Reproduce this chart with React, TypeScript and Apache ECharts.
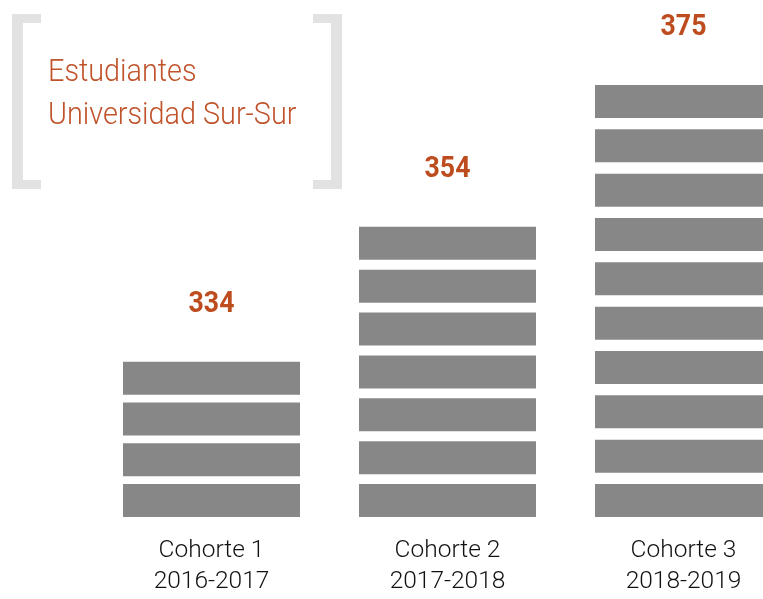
import React, { useEffect, useRef } from "react";
import * as echarts from "echarts";

const cohortNames = ["Cohorte 1", "Cohorte 2", "Cohorte 3"];
const cohortYears = ["2016-2017", "2017-2018", "2018-2019"];
const studentCounts = [334, 354, 375];
const blockCounts = [4, 7, 10];
const titleLines = ["Estudiantes", "Universidad Sur-Sur"];

const AXIS_MIN = 311;
const AXIS_MAX = 375;
const BLOCK_H = 33;
const FONT = "Roboto, 'DejaVu Sans', sans-serif";

export default function App() {
  const ref = useRef<HTMLDivElement>(null);

  useEffect(() => {
    if (!ref.current) return;
    const chart = echarts.init(ref.current, null, { renderer: "svg" });
    const categories = cohortNames.map((n, i) => `${n}\n${cohortYears[i]}`);
    const bracketColor = "#e2e2e2";
    chart.setOption({
      animation: false,
      grid: { left: 93.5, width: 708, top: 85, height: 432, outerBoundsMode: "none" },
      xAxis: {
        type: "category",
        data: categories,
        axisLine: { show: false },
        axisTick: { show: false },
        splitLine: { show: false },
        axisLabel: {
          interval: 0,
          margin: 16,
          fontSize: 24.5,
          fontWeight: 300,
          lineHeight: 31,
          color: "#111111",
          fontFamily: FONT,
        },
      },
      yAxis: {
        type: "value",
        min: AXIS_MIN,
        max: AXIS_MAX,
        show: false,
        splitLine: { show: false },
      },
      series: [
        {
          type: "custom",
          encode: { x: 0, y: 1 },
          data: studentCounts.map((v, i) => [i, v]),
          renderItem: (params: any, api: any) => {
            const idx = api.value(0);
            const val = api.value(1);
            const top = api.coord([idx, val]);
            const base = api.coord([idx, AXIS_MIN]);
            const bandW = api.size([1, 0])[0];
            const w = bandW * 0.75;
            const n = blockCounts[params.dataIndex];
            const total = base[1] - top[1];
            const gap = n > 1 ? (total - n * BLOCK_H) / (n - 1) : 0;
            const children: any[] = [];
            for (let k = 0; k < n; k++) {
              children.push({
                type: "rect",
                shape: {
                  x: top[0] - w / 2,
                  y: base[1] - BLOCK_H - k * (BLOCK_H + gap),
                  width: w,
                  height: BLOCK_H,
                },
                style: { fill: "#878787" },
              });
            }
            children.push({
              type: "text",
              x: top[0],
              y: top[1] - 45,
              scaleX: 0.92,
              style: {
                text: String(val),
                x: 0,
                y: 0,
                align: "center",
                verticalAlign: "bottom",
                fontSize: 29,
                fontWeight: "bold",
                fontFamily: FONT,
                fill: "#bd4c1e",
              },
            });
            return { type: "group", children };
          },
        },
      ],
      graphic: [
        { type: "rect", shape: { x: 12, y: 14, width: 11, height: 175 }, style: { fill: bracketColor } },
        { type: "rect", shape: { x: 12, y: 14, width: 29, height: 9 }, style: { fill: bracketColor } },
        { type: "rect", shape: { x: 12, y: 180, width: 29, height: 9 }, style: { fill: bracketColor } },
        { type: "rect", shape: { x: 331, y: 14, width: 11, height: 175 }, style: { fill: bracketColor } },
        { type: "rect", shape: { x: 313, y: 14, width: 29, height: 9 }, style: { fill: bracketColor } },
        { type: "rect", shape: { x: 313, y: 180, width: 29, height: 9 }, style: { fill: bracketColor } },
        {
          type: "text",
          x: 48,
          y: 48,
          scaleX: 0.9,
          style: {
            text: titleLines.join("\n"),
            fontSize: 32,
            fontWeight: 300,
            lineHeight: 43,
            fill: "#c0532b",
            fontFamily: FONT,
            verticalAlign: "top",
            align: "left",
          },
        },
      ],
    });
    return () => chart.dispose();
  }, []);

  return (
    <div
      ref={ref}
      style={{ position: "fixed", left: 0, top: 0, width: 763, height: 599 }}
    />
  );
}
